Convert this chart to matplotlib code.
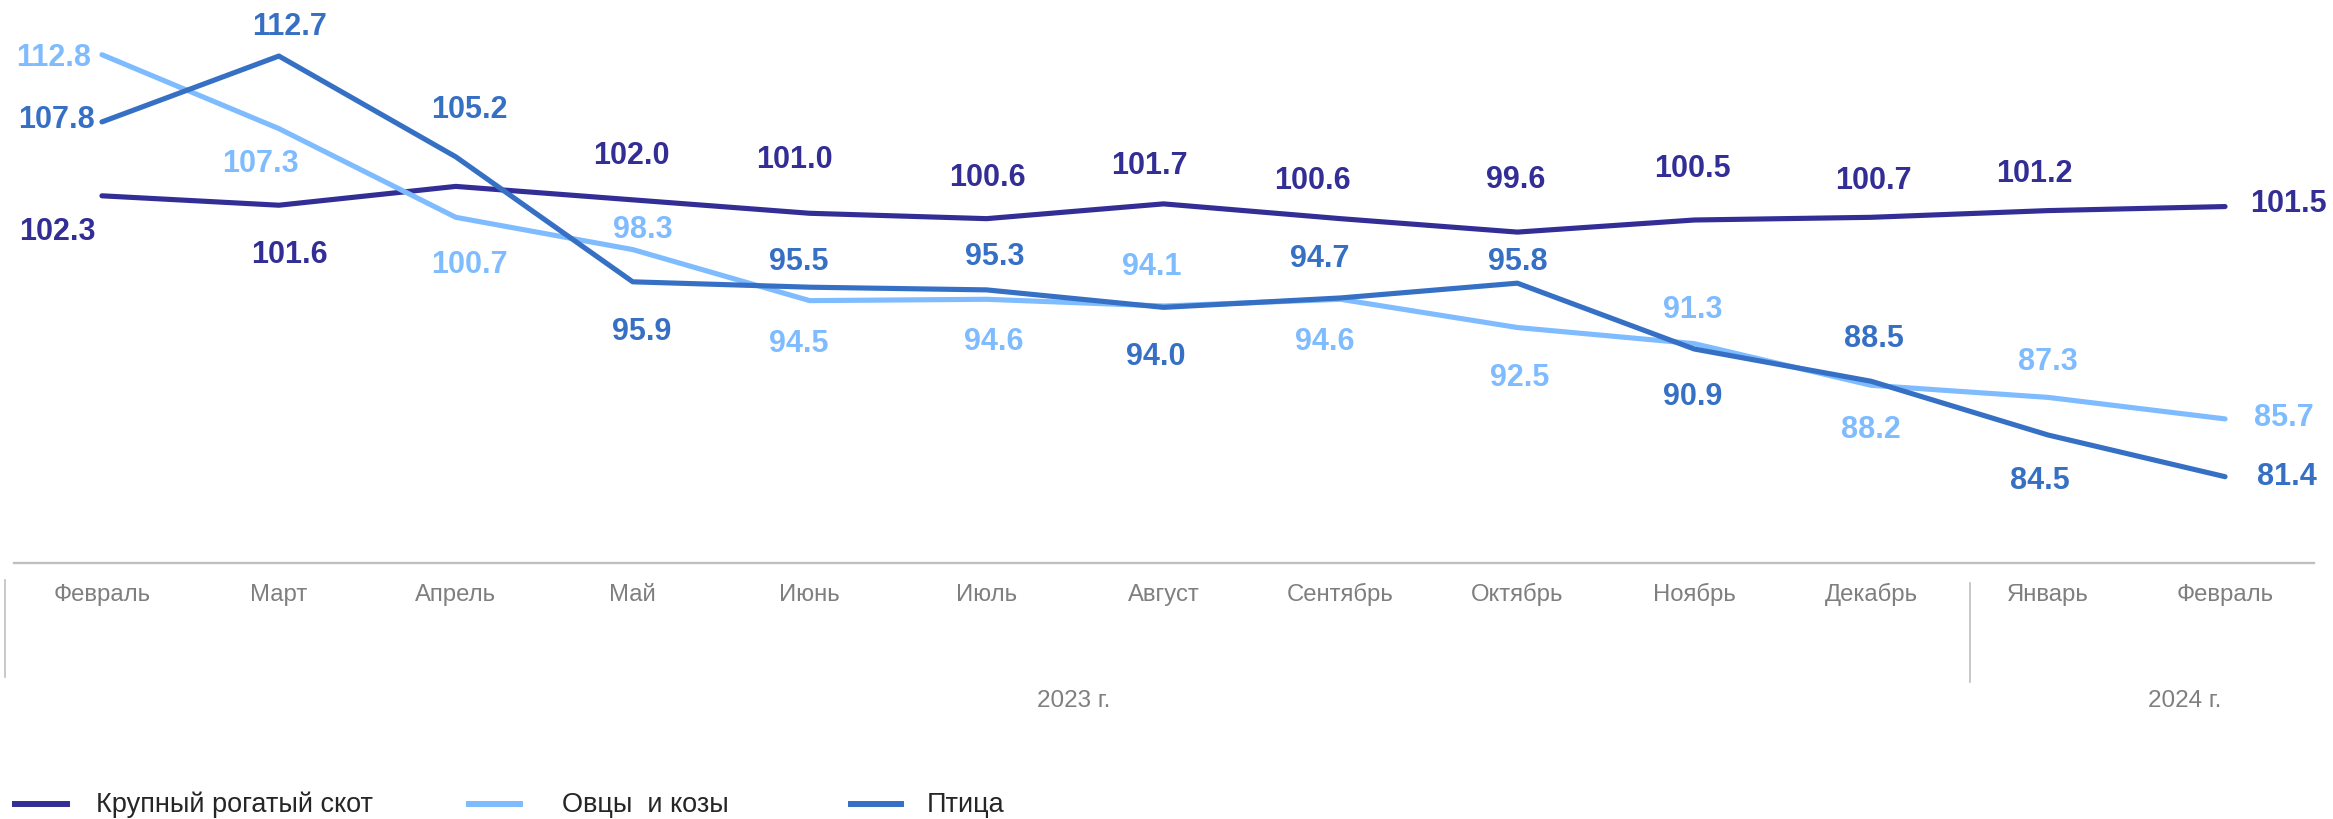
"""
Livestock price indices by month (Feb 2023 - Feb 2024), three series
with value labels, month axis and year grouping below.
"""

import matplotlib
matplotlib.use("Agg")
import matplotlib.pyplot as plt
import matplotlib.transforms as mtransforms
from matplotlib.lines import Line2D

plt.rcParams["font.family"] = ["Liberation Sans", "DejaVu Sans"]

# ---------------------------------------------------------------------------
# Data
# ---------------------------------------------------------------------------
MONTHS = ["Февраль", "Март", "Апрель", "Май", "Июнь", "Июль", "Август",
          "Сентябрь", "Октябрь", "Ноябрь", "Декабрь", "Январь", "Февраль"]
YEARS = ["2023 г.", "2024 г."]
SERIES_NAMES = ["Крупный рогатый скот", "Овцы  и козы", "Птица"]

CATTLE = [102.3, 101.6, 103.0, 102.0, 101.0, 100.6, 101.7,
          100.6, 99.6, 100.5, 100.7, 101.2, 101.5]
SHEEP = [112.8, 107.3, 100.7, 98.3, 94.5, 94.6, 94.1,
         94.6, 92.5, 91.3, 88.2, 87.3, 85.7]
POULTRY = [107.8, 112.7, 105.2, 95.9, 95.5, 95.3, 94.0,
           94.7, 95.8, 90.9, 88.5, 84.5, 81.4]

# ---------------------------------------------------------------------------
# Styling
# ---------------------------------------------------------------------------
COLORS = ["#332E96", "#7FBCFF", "#3670C4"]
GRAY = "#BFBFBF"
TEXT_GRAY = "#7F7F7F"

# label offsets in pixels (dx, dy up) of the label centre from its point;
# None = point has no label in the source
CATTLE_OFFS = [(-45, -33), (11, -47), None, (-1, 47), (-15, 56), (1, 44),
               (-14, 41), (-28, 41), (-2, 55), (-2, 54), (2, 39), (-14, 40),
               (63, 6)]
SHEEP_OFFS = [(-48, 0), (-18, -32), (14, -45), (10, 23), (-11, -40), (7, -40),
              (-12, 42), (-16, -40), (2, -47), (-2, 37), (0, -42), (0, 38),
              (59, 4)]
POULTRY_OFFS = [(-45, 5), (11, 32), (14, 50), (9, -47), (-11, 28), (8, 36),
                (-8, -47), (-21, 42), (0, 24), (-2, -45), (3, 45), (-8, -43),
                (62, 3)]

W, H = 2333, 819


def main():
    fig = plt.figure(figsize=(W / 100, H / 100), dpi=100)
    ax = fig.add_axes([13.5 / W, 1 - 562.7 / H, 2300 / W, 562.7 / H])
    ax.set_xlim(-0.5, 12.5)
    ax.set_ylim(75, 116.87)

    x = list(range(len(MONTHS)))
    series = [CATTLE, SHEEP, POULTRY]
    offsets = [CATTLE_OFFS, SHEEP_OFFS, POULTRY_OFFS]

    for vals, offs, color in zip(series, offsets, COLORS):
        ax.plot(x, vals, color=color, lw=3.7, solid_capstyle="round",
                solid_joinstyle="round", zorder=3)
        for xi, v, off in zip(x, vals, offs):
            if off is None:
                continue
            # baseline anchor: shift down by half the cap height (~11 px)
            ax.annotate(f"{v:.1f}", (xi, v), xytext=(off[0], off[1] - 11),
                        textcoords="offset pixels", ha="center", va="baseline",
                        fontsize=22, fontweight="bold", color=color,
                        annotation_clip=False, zorder=4)

    # axis frame: only the bottom line
    for side in ["top", "left", "right"]:
        ax.spines[side].set_visible(False)
    ax.spines["bottom"].set_color(GRAY)
    ax.spines["bottom"].set_linewidth(1.7)
    ax.set_xticks([])
    ax.set_yticks([])

    # month labels, year labels and separators below the axis
    trans = mtransforms.blended_transform_factory(ax.transData, fig.transFigure)
    for xi, m in zip(x, MONTHS):
        ax.text(xi, 1 - 601 / H, m, transform=trans, ha="center",
                va="baseline", fontsize=17.2, color=TEXT_GRAY)
    for xpos, year in zip([5.49, 11.77], YEARS):
        ax.text(xpos, 1 - 707 / H, year, transform=trans, ha="center",
                va="baseline", fontsize=17.5, color=TEXT_GRAY)
    for xpos, y0, y1 in [(-0.55, 580, 677), (10.56, 583, 682)]:
        ax.add_line(Line2D([xpos, xpos], [1 - y0 / H, 1 - y1 / H],
                           transform=trans, color=GRAY, lw=1.2,
                           clip_on=False))

    # legend drawn by hand along the bottom edge
    legend_pos = [(15, 67, 96), (469, 520, 562), (851, 901, 927)]
    ly = 1 - 804 / H
    for (x0, x1, tx), name, color in zip(legend_pos, SERIES_NAMES, COLORS):
        fig.add_artist(Line2D([x0 / W, x1 / W], [ly, ly],
                              transform=fig.transFigure, color=color, lw=4.3))
        fig.text(tx / W, 1 - 812 / H, name, ha="left", va="baseline",
                 fontsize=19.5, color="#262626")

    fig.savefig("out.png", dpi=100)
    plt.close(fig)


if __name__ == "__main__":
    main()
